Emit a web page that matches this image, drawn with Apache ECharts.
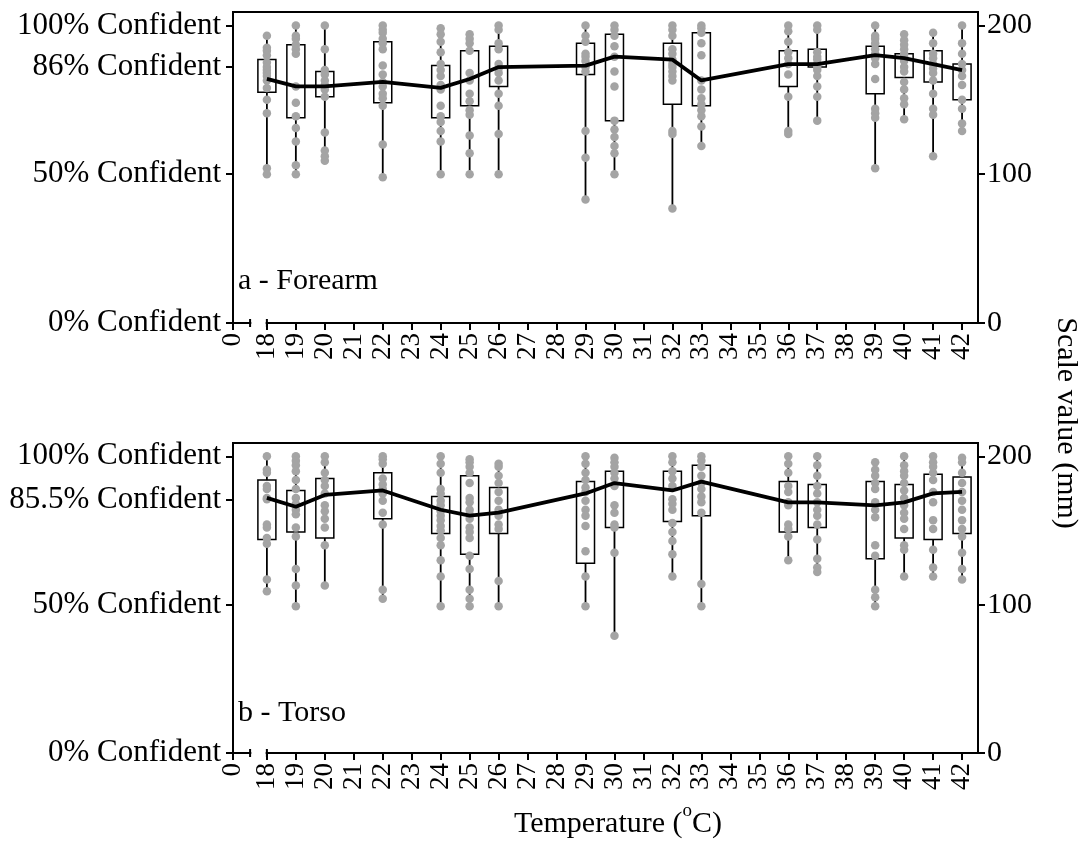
<!DOCTYPE html>
<html>
<head>
<meta charset="utf-8">
<script src="https://cdn.jsdelivr.net/npm/echarts@6/dist/echarts.min.js"></script>
<style>
html,body{margin:0;padding:0;background:#fff;}
#chart{width:1079px;height:848px;}
</style>
</head>
<body>
<div id="chart"></div>
<script>
// ---------------- DATA ----------------
const temps = [18,19,20,22,24,25,26,29,30,32,33,36,37,39,40,41,42];
const xTickTemps = [18,19,20,21,22,23,24,25,26,27,28,29,30,31,32,33,34,35,36,37,38,39,40,41,42];
const leftTickValues = [0,100,172,200];
const leftTickLabelsA = ['0% Confident','50% Confident','86% Confident','100% Confident'];
const leftTickValuesB = [0,100,171,200];
const leftTickLabelsB = ['0% Confident','50% Confident','85.5% Confident','100% Confident'];
const rightTickValues = [0,100,200];

// Forearm (panel a)
const forearmMin = [100,100,109,98,100,100,100,83,100,77,119,127,136,104,136,112,128];
const forearmQ1  = [155,138,152,148,138,146,159,167,136,147,146,159,172,154,165,162,150];
const forearmMed = [164,159,159,162,158,164,172,173,179,177,163,174,174,180,178,174,170];
const forearmQ3  = [177,187,169,189,173,183,186,188,194,188,195,183,184,186,181,183,174];
const forearmMax = [193,200,200,200,198,194,200,200,200,200,200,200,200,200,194,195,200];
const forearmDots = [
  [193,185,183,180,175,172,170,168,166,163,158,150,141,104,100],
  [200,193,191,187,184,181,159,148,139,131,122,106,100],
  [200,184,170,167,163,160,157,152,128,116,112,109],
  [200,197,195,191,188,184,173,167,162,159,154,151,146,120,98],
  [198,194,189,182,174,170,166,160,157,146,139,135,129,122,100],
  [194,191,188,183,168,163,154,149,143,140,126,114,100],
  [200,197,188,184,174,171,168,163,154,146,127,100],
  [200,193,189,181,179,176,172,169,129,111,83],
  [200,197,193,186,179,169,159,136,130,125,119,114,100],
  [200,197,193,184,181,177,174,172,169,166,163,129,127,77],
  [200,198,195,188,180,163,157,151,147,143,139,132,119],
  [200,196,189,182,178,174,167,152,129,127],
  [200,197,182,179,177,174,172,170,166,159,152,136],
  [200,193,191,188,184,181,178,174,164,144,141,138,104],
  [194,190,187,184,181,179,176,172,169,162,157,151,147,137],
  [195,188,181,178,174,171,168,163,154,144,140,112],
  [200,188,181,174,170,166,160,150,144,134,129]
];

// Torso (panel b)
const torsoMin = [109,99,113,104,99,99,99,99,79,119,99,130,122,99,119,119,117];
const torsoQ1  = [144,149,145,158,148,134,148,128,152,156,160,149,152,131,145,144,148];
const torsoMed = [172,166,174,177,164,160,162,175,182,177,183,169,169,167,169,175,176];
const torsoQ3  = [184,177,185,189,173,187,179,183,190,190,194,183,181,183,181,188,186];
const torsoMax = [200,200,200,200,200,198,195,200,199,200,200,200,200,196,200,200,199];
const torsoDots = [
  [200,191,189,180,178,172,171,154,152,145,141,117,109],
  [200,197,194,190,184,178,172,168,164,161,152,146,124,113,99],
  [200,196,189,184,180,175,167,163,158,152,140,113],
  [200,198,195,185,181,178,175,170,162,154,110,104],
  [200,195,189,178,175,170,167,163,160,157,153,150,145,140,130,119,99],
  [198,196,193,189,182,172,169,164,161,158,152,149,145,133,124,110,104,99],
  [195,193,187,182,176,170,164,160,154,151,116,99],
  [200,195,189,184,179,176,170,164,160,153,136,119,99],
  [199,196,193,189,185,180,167,162,154,152,135,79],
  [200,196,190,185,180,171,168,164,155,149,143,134,119],
  [200,197,193,187,182,178,173,169,162,114,99],
  [200,195,189,180,176,169,167,154,151,146,130],
  [200,194,187,180,175,169,164,160,154,144,131,125,122],
  [196,191,187,182,178,169,164,159,140,133,110,105,99],
  [200,194,190,187,182,177,172,167,162,158,151,140,137,119],
  [200,196,193,189,184,176,169,157,151,137,125,119],
  [199,196,189,182,176,170,164,157,151,146,135,124,117]
];

// ---------------- LAYOUT CONSTANTS ----------------
const FONT = 'Liberation Serif';
const X_MIN = 16.83, X_MAX = 42.55;   // axis extent (broken axis: "0" drawn at X_MIN)
const BREAK_FROM = 17.42, BREAK_TO = 18;
const Y_MAX = 209;
const DOT_COLOR = '#a4a4a4';

const xTickPositions = [X_MIN].concat(xTickTemps);
function xLabel(v){ return v < 17 ? '0' : String(Math.round(v)); }

function boxData(mn,q1,md,q3,mx){ return temps.map((t,i)=>[t,mn[i],q1[i],md[i],q3[i],mx[i]]); }
function dotData(dots){ const out=[]; dots.forEach((arr,i)=>arr.forEach(v=>out.push([temps[i],v]))); return out; }
function lineData(md){ return temps.map((t,i)=>[t,md[i]]); }

function renderBox(params, api){
  const x = api.value(0);
  const lo = api.coord([x, api.value(1)]);
  const q1 = api.coord([x, api.value(2)]);
  const q3 = api.coord([x, api.value(4)]);
  const hi = api.coord([x, api.value(5)]);
  const w = 18;
  return {type:'group', children:[
    {type:'line', shape:{x1:lo[0],y1:lo[1],x2:q1[0],y2:q1[1]}, style:{stroke:'#000',lineWidth:1.8}},
    {type:'line', shape:{x1:q3[0],y1:q3[1],x2:hi[0],y2:hi[1]}, style:{stroke:'#000',lineWidth:1.8}},
    {type:'rect', shape:{x:q3[0]-w/2,y:q3[1],width:w,height:q1[1]-q3[1]}, style:{fill:'none',stroke:'#000',lineWidth:1.5}}
  ]};
}
function renderBreak(params, api){
  const a = api.coord([api.value(0), 0]);
  const b = api.coord([api.value(1), 0]);
  return {type:'group', children:[
    {type:'line', shape:{x1:a[0]+1.2,y1:a[1],x2:b[0]-1.2,y2:b[1]}, style:{stroke:'#fff',lineWidth:6}},
    {type:'line', shape:{x1:a[0],y1:a[1]-4,x2:a[0],y2:a[1]+4}, style:{stroke:'#000',lineWidth:2}},
    {type:'line', shape:{x1:b[0],y1:b[1]-4,x2:b[0],y2:b[1]+4}, style:{stroke:'#000',lineWidth:2}}
  ]};
}

const grids = [
  {left:233, right:101, top:12, height:311, show:true, borderColor:'#000', borderWidth:2, backgroundColor:'transparent'},
  {left:233, right:101, top:443, height:310, show:true, borderColor:'#000', borderWidth:2, backgroundColor:'transparent'}
];

function makeX(gi){
  return {
    type:'value', gridIndex:gi, min:X_MIN, max:X_MAX,
    axisLine:{show:true, onZero:false, lineStyle:{color:'#000', width:2}},
    axisTick:{show:true, length:7, lineStyle:{color:'#000', width:2}, customValues:xTickPositions},
    axisLabel:{show:true, rotate:90, margin:10, fontSize:27, fontFamily:FONT, color:'#000',
      customValues:xTickPositions, formatter:xLabel},
    splitLine:{show:false}
  };
}
function makeYLeft(gi, vals, labels){
  return {
    type:'value', gridIndex:gi, position:'left', min:0, max:Y_MAX,
    axisLine:{show:true, onZero:false, lineStyle:{color:'#000', width:2}},
    axisTick:{show:true, length:7, lineStyle:{color:'#000', width:2}, customValues:vals},
    axisLabel:{show:true, margin:12, fontSize:31, fontFamily:FONT, color:'#000', customValues:vals,
      formatter:function(v){ const i = vals.indexOf(Math.round(v)); return i>=0 ? labels[i] : ''; }},
    splitLine:{show:false}
  };
}
function makeYRight(gi){
  return {
    type:'value', gridIndex:gi, position:'right', min:0, max:Y_MAX,
    axisLine:{show:true, onZero:false, lineStyle:{color:'#000', width:2}},
    axisTick:{show:true, length:7, lineStyle:{color:'#000', width:2}, customValues:rightTickValues},
    axisLabel:{show:true, margin:9, fontSize:30, fontFamily:FONT, color:'#000', customValues:rightTickValues,
      formatter:function(v){ return String(Math.round(v)); }},
    splitLine:{show:false}
  };
}

function panelSeries(xi, yi, mn,q1,md,q3,mx,dots){
  return [
    {type:'custom', xAxisIndex:xi, yAxisIndex:yi, renderItem:renderBox, data:boxData(mn,q1,md,q3,mx),
      encode:{x:0, y:[1,2,3,4,5]}, z:2, clip:false, silent:true},
    {type:'scatter', xAxisIndex:xi, yAxisIndex:yi, data:dotData(dots), symbol:'circle', symbolSize:8.5,
      itemStyle:{color:DOT_COLOR, opacity:1}, z:3, silent:true},
    {type:'line', xAxisIndex:xi, yAxisIndex:yi, data:lineData(md), showSymbol:false, symbol:'none',
      lineStyle:{color:'#000', width:3.8}, z:4, silent:true, animation:false},
    {type:'custom', xAxisIndex:xi, yAxisIndex:yi, renderItem:renderBreak, data:[[BREAK_FROM, BREAK_TO]],
      encode:{x:[0,1]}, z:10, clip:false, silent:true}
  ];
}

const option = {
  animation:false,
  backgroundColor:'#fff',
  grid:grids,
  xAxis:[makeX(0), makeX(1)],
  yAxis:[makeYLeft(0,leftTickValues,leftTickLabelsA), makeYRight(0), makeYLeft(1,leftTickValuesB,leftTickLabelsB), makeYRight(1)],
  series:[].concat(
    panelSeries(0,1,forearmMin,forearmQ1,forearmMed,forearmQ3,forearmMax,forearmDots),
    panelSeries(1,3,torsoMin,torsoQ1,torsoMed,torsoQ3,torsoMax,torsoDots)
  ),
  graphic:[
    {type:'text', left:238, top:266, style:{text:'a - Forearm', font:'30px "Liberation Serif"', fill:'#000'}},
    {type:'text', left:238, top:698, style:{text:'b - Torso', font:'30px "Liberation Serif"', fill:'#000'}},
    {type:'text', x:618, y:818, style:{text:'{n|Temperature (}{s|o}{n|C)}', fill:'#000',
      align:'center', verticalAlign:'middle',
      rich:{
        n:{fontSize:30, fontFamily:FONT, color:'#000', verticalAlign:'bottom', height:34},
        s:{fontSize:19, fontFamily:FONT, color:'#000', verticalAlign:'bottom', height:34, padding:[0,0,13,0]}
      }}},
    {type:'text', x:1066, y:423, rotation:-Math.PI/2, style:{text:'Scale value (mm)', fontFamily:FONT, fontSize:30, fill:'#000',
      align:'center', verticalAlign:'middle'}}
  ]
};

const chart = echarts.init(document.getElementById('chart'), null, {renderer:'canvas'});
chart.setOption(option);
</script>
</body>
</html>
